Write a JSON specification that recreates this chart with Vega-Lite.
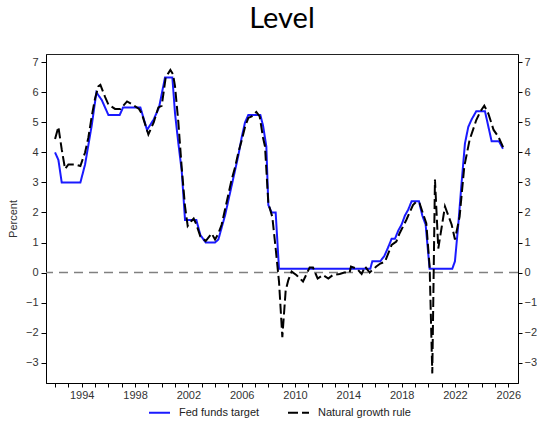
{
  "$schema": "https://vega.github.io/schema/vega-lite/v6.json",
  "width": 472,
  "height": 329,
  "autosize": "none",
  "padding": {"left": 46, "top": 54, "right": 19, "bottom": 45},
  "background": "white",
  "title": {"text": "Level", "font": "Lato", "fontSize": 29, "fontWeight": "normal", "color": "#000", "anchor": "middle", "offset": 20},
  "config": {
    "view": {"stroke": "#222", "strokeWidth": 1},
    "axis": {"grid": false, "labelFont": "Liberation Sans", "labelFontSize": 11, "labelColor": "#333", "domainColor": "#000", "tickColor": "#000", "titleFont": "Liberation Sans", "titleFontWeight": "normal", "titleFontSize": 11, "titleColor": "#333"},
    "legend": {"labelFont": "Liberation Sans", "labelFontSize": 11, "labelColor": "#222"}
  },
  "datasets": {
    "main": [
      {"year": 1992.0, "value": 4.0, "series": "Fed funds target"},
      {"year": 1992.25, "value": 3.75, "series": "Fed funds target"},
      {"year": 1992.5, "value": 3.0, "series": "Fed funds target"},
      {"year": 1993.0, "value": 3.0, "series": "Fed funds target"},
      {"year": 1993.5, "value": 3.0, "series": "Fed funds target"},
      {"year": 1993.9, "value": 3.0, "series": "Fed funds target"},
      {"year": 1994.25, "value": 3.6, "series": "Fed funds target"},
      {"year": 1994.5, "value": 4.25, "series": "Fed funds target"},
      {"year": 1994.75, "value": 4.9, "series": "Fed funds target"},
      {"year": 1995.1, "value": 6.0, "series": "Fed funds target"},
      {"year": 1995.5, "value": 5.75, "series": "Fed funds target"},
      {"year": 1996.0, "value": 5.25, "series": "Fed funds target"},
      {"year": 1996.5, "value": 5.25, "series": "Fed funds target"},
      {"year": 1996.85, "value": 5.25, "series": "Fed funds target"},
      {"year": 1997.1, "value": 5.5, "series": "Fed funds target"},
      {"year": 1997.5, "value": 5.5, "series": "Fed funds target"},
      {"year": 1998.0, "value": 5.5, "series": "Fed funds target"},
      {"year": 1998.4, "value": 5.5, "series": "Fed funds target"},
      {"year": 1998.9, "value": 4.75, "series": "Fed funds target"},
      {"year": 1999.4, "value": 5.1, "series": "Fed funds target"},
      {"year": 1999.8, "value": 5.5, "series": "Fed funds target"},
      {"year": 2000.25, "value": 6.5, "series": "Fed funds target"},
      {"year": 2000.8, "value": 6.5, "series": "Fed funds target"},
      {"year": 2001.0, "value": 5.3, "series": "Fed funds target"},
      {"year": 2001.25, "value": 4.3, "series": "Fed funds target"},
      {"year": 2001.5, "value": 3.4, "series": "Fed funds target"},
      {"year": 2001.75, "value": 1.75, "series": "Fed funds target"},
      {"year": 2002.6, "value": 1.75, "series": "Fed funds target"},
      {"year": 2002.9, "value": 1.25, "series": "Fed funds target"},
      {"year": 2003.3, "value": 1.0, "series": "Fed funds target"},
      {"year": 2004.0, "value": 1.0, "series": "Fed funds target"},
      {"year": 2004.25, "value": 1.1, "series": "Fed funds target"},
      {"year": 2004.5, "value": 1.5, "series": "Fed funds target"},
      {"year": 2004.75, "value": 1.9, "series": "Fed funds target"},
      {"year": 2005.0, "value": 2.4, "series": "Fed funds target"},
      {"year": 2005.25, "value": 2.9, "series": "Fed funds target"},
      {"year": 2005.5, "value": 3.4, "series": "Fed funds target"},
      {"year": 2005.75, "value": 3.9, "series": "Fed funds target"},
      {"year": 2006.0, "value": 4.5, "series": "Fed funds target"},
      {"year": 2006.25, "value": 5.0, "series": "Fed funds target"},
      {"year": 2006.5, "value": 5.25, "series": "Fed funds target"},
      {"year": 2007.4, "value": 5.25, "series": "Fed funds target"},
      {"year": 2007.6, "value": 4.9, "series": "Fed funds target"},
      {"year": 2007.85, "value": 4.2, "series": "Fed funds target"},
      {"year": 2008.0, "value": 2.25, "series": "Fed funds target"},
      {"year": 2008.25, "value": 2.0, "series": "Fed funds target"},
      {"year": 2008.55, "value": 2.0, "series": "Fed funds target"},
      {"year": 2008.8, "value": 0.125, "series": "Fed funds target"},
      {"year": 2012.0, "value": 0.125, "series": "Fed funds target"},
      {"year": 2015.65, "value": 0.125, "series": "Fed funds target"},
      {"year": 2015.8, "value": 0.375, "series": "Fed funds target"},
      {"year": 2016.4, "value": 0.375, "series": "Fed funds target"},
      {"year": 2016.7, "value": 0.55, "series": "Fed funds target"},
      {"year": 2017.0, "value": 0.85, "series": "Fed funds target"},
      {"year": 2017.25, "value": 1.125, "series": "Fed funds target"},
      {"year": 2017.5, "value": 1.125, "series": "Fed funds target"},
      {"year": 2017.75, "value": 1.4, "series": "Fed funds target"},
      {"year": 2018.0, "value": 1.6, "series": "Fed funds target"},
      {"year": 2018.25, "value": 1.9, "series": "Fed funds target"},
      {"year": 2018.5, "value": 2.1, "series": "Fed funds target"},
      {"year": 2018.75, "value": 2.375, "series": "Fed funds target"},
      {"year": 2019.3, "value": 2.375, "series": "Fed funds target"},
      {"year": 2019.55, "value": 1.9, "series": "Fed funds target"},
      {"year": 2019.8, "value": 1.6, "series": "Fed funds target"},
      {"year": 2020.1, "value": 0.125, "series": "Fed funds target"},
      {"year": 2021.8, "value": 0.125, "series": "Fed funds target"},
      {"year": 2022.0, "value": 0.375, "series": "Fed funds target"},
      {"year": 2022.25, "value": 1.6, "series": "Fed funds target"},
      {"year": 2022.5, "value": 3.0, "series": "Fed funds target"},
      {"year": 2022.75, "value": 4.3, "series": "Fed funds target"},
      {"year": 2023.0, "value": 4.85, "series": "Fed funds target"},
      {"year": 2023.25, "value": 5.1, "series": "Fed funds target"},
      {"year": 2023.6, "value": 5.375, "series": "Fed funds target"},
      {"year": 2024.25, "value": 5.375, "series": "Fed funds target"},
      {"year": 2024.75, "value": 4.375, "series": "Fed funds target"},
      {"year": 2025.3, "value": 4.375, "series": "Fed funds target"},
      {"year": 2025.6, "value": 4.125, "series": "Fed funds target"},

      {"year": 1992.0, "value": 4.45, "series": "Natural growth rule"},
      {"year": 1992.25, "value": 4.85, "series": "Natural growth rule"},
      {"year": 1992.5, "value": 4.1, "series": "Natural growth rule"},
      {"year": 1992.75, "value": 3.45, "series": "Natural growth rule"},
      {"year": 1993.0, "value": 3.6, "series": "Natural growth rule"},
      {"year": 1993.5, "value": 3.6, "series": "Natural growth rule"},
      {"year": 1993.9, "value": 3.55, "series": "Natural growth rule"},
      {"year": 1994.25, "value": 4.0, "series": "Natural growth rule"},
      {"year": 1994.5, "value": 4.5, "series": "Natural growth rule"},
      {"year": 1994.75, "value": 5.2, "series": "Natural growth rule"},
      {"year": 1995.0, "value": 5.8, "series": "Natural growth rule"},
      {"year": 1995.25, "value": 6.2, "series": "Natural growth rule"},
      {"year": 1995.4, "value": 6.25, "series": "Natural growth rule"},
      {"year": 1995.75, "value": 5.85, "series": "Natural growth rule"},
      {"year": 1996.0, "value": 5.6, "series": "Natural growth rule"},
      {"year": 1996.5, "value": 5.45, "series": "Natural growth rule"},
      {"year": 1996.9, "value": 5.45, "series": "Natural growth rule"},
      {"year": 1997.4, "value": 5.7, "series": "Natural growth rule"},
      {"year": 1997.8, "value": 5.6, "series": "Natural growth rule"},
      {"year": 1998.3, "value": 5.45, "series": "Natural growth rule"},
      {"year": 1998.5, "value": 5.3, "series": "Natural growth rule"},
      {"year": 1999.0, "value": 4.6, "series": "Natural growth rule"},
      {"year": 1999.4, "value": 5.0, "series": "Natural growth rule"},
      {"year": 1999.75, "value": 5.5, "series": "Natural growth rule"},
      {"year": 2000.0, "value": 5.55, "series": "Natural growth rule"},
      {"year": 2000.3, "value": 6.5, "series": "Natural growth rule"},
      {"year": 2000.65, "value": 6.75, "series": "Natural growth rule"},
      {"year": 2000.85, "value": 6.6, "series": "Natural growth rule"},
      {"year": 2001.0, "value": 6.2, "series": "Natural growth rule"},
      {"year": 2001.25, "value": 5.0, "series": "Natural growth rule"},
      {"year": 2001.5, "value": 3.5, "series": "Natural growth rule"},
      {"year": 2001.75, "value": 2.2, "series": "Natural growth rule"},
      {"year": 2001.95, "value": 1.55, "series": "Natural growth rule"},
      {"year": 2002.2, "value": 1.7, "series": "Natural growth rule"},
      {"year": 2002.4, "value": 1.8, "series": "Natural growth rule"},
      {"year": 2002.6, "value": 1.6, "series": "Natural growth rule"},
      {"year": 2002.9, "value": 1.2, "series": "Natural growth rule"},
      {"year": 2003.3, "value": 1.05, "series": "Natural growth rule"},
      {"year": 2003.75, "value": 1.3, "series": "Natural growth rule"},
      {"year": 2004.0, "value": 1.1, "series": "Natural growth rule"},
      {"year": 2004.25, "value": 1.3, "series": "Natural growth rule"},
      {"year": 2004.5, "value": 1.6, "series": "Natural growth rule"},
      {"year": 2004.75, "value": 2.1, "series": "Natural growth rule"},
      {"year": 2005.0, "value": 2.6, "series": "Natural growth rule"},
      {"year": 2005.25, "value": 3.1, "series": "Natural growth rule"},
      {"year": 2005.5, "value": 3.5, "series": "Natural growth rule"},
      {"year": 2005.75, "value": 4.0, "series": "Natural growth rule"},
      {"year": 2006.0, "value": 4.4, "series": "Natural growth rule"},
      {"year": 2006.25, "value": 4.85, "series": "Natural growth rule"},
      {"year": 2006.5, "value": 5.15, "series": "Natural growth rule"},
      {"year": 2006.75, "value": 5.2, "series": "Natural growth rule"},
      {"year": 2007.1, "value": 5.35, "series": "Natural growth rule"},
      {"year": 2007.35, "value": 5.2, "series": "Natural growth rule"},
      {"year": 2007.6, "value": 4.5, "series": "Natural growth rule"},
      {"year": 2007.75, "value": 4.2, "series": "Natural growth rule"},
      {"year": 2008.0, "value": 2.3, "series": "Natural growth rule"},
      {"year": 2008.3, "value": 1.85, "series": "Natural growth rule"},
      {"year": 2008.55, "value": 0.8, "series": "Natural growth rule"},
      {"year": 2008.8, "value": -0.3, "series": "Natural growth rule"},
      {"year": 2009.05, "value": -2.15, "series": "Natural growth rule"},
      {"year": 2009.3, "value": -0.6, "series": "Natural growth rule"},
      {"year": 2009.5, "value": -0.25, "series": "Natural growth rule"},
      {"year": 2009.75, "value": 0.03, "series": "Natural growth rule"},
      {"year": 2010.1, "value": -0.08, "series": "Natural growth rule"},
      {"year": 2010.6, "value": -0.3, "series": "Natural growth rule"},
      {"year": 2011.1, "value": 0.17, "series": "Natural growth rule"},
      {"year": 2011.35, "value": 0.17, "series": "Natural growth rule"},
      {"year": 2011.7, "value": -0.2, "series": "Natural growth rule"},
      {"year": 2012.1, "value": -0.08, "series": "Natural growth rule"},
      {"year": 2012.5, "value": -0.2, "series": "Natural growth rule"},
      {"year": 2012.85, "value": -0.08, "series": "Natural growth rule"},
      {"year": 2013.35, "value": -0.05, "series": "Natural growth rule"},
      {"year": 2013.7, "value": 0.0, "series": "Natural growth rule"},
      {"year": 2014.1, "value": 0.0, "series": "Natural growth rule"},
      {"year": 2014.2, "value": 0.2, "series": "Natural growth rule"},
      {"year": 2014.5, "value": 0.15, "series": "Natural growth rule"},
      {"year": 2014.7, "value": 0.1, "series": "Natural growth rule"},
      {"year": 2015.0, "value": -0.05, "series": "Natural growth rule"},
      {"year": 2015.25, "value": 0.2, "series": "Natural growth rule"},
      {"year": 2015.6, "value": 0.0, "series": "Natural growth rule"},
      {"year": 2016.1, "value": 0.2, "series": "Natural growth rule"},
      {"year": 2016.4, "value": 0.3, "series": "Natural growth rule"},
      {"year": 2016.75, "value": 0.36, "series": "Natural growth rule"},
      {"year": 2017.0, "value": 0.64, "series": "Natural growth rule"},
      {"year": 2017.25, "value": 0.92, "series": "Natural growth rule"},
      {"year": 2017.6, "value": 1.03, "series": "Natural growth rule"},
      {"year": 2017.85, "value": 1.31, "series": "Natural growth rule"},
      {"year": 2018.35, "value": 1.75, "series": "Natural growth rule"},
      {"year": 2018.85, "value": 2.25, "series": "Natural growth rule"},
      {"year": 2019.1, "value": 2.36, "series": "Natural growth rule"},
      {"year": 2019.35, "value": 2.3, "series": "Natural growth rule"},
      {"year": 2019.6, "value": 1.97, "series": "Natural growth rule"},
      {"year": 2019.85, "value": 1.64, "series": "Natural growth rule"},
      {"year": 2020.1, "value": 0.2, "series": "Natural growth rule"},
      {"year": 2020.3, "value": -3.36, "series": "Natural growth rule"},
      {"year": 2020.5, "value": 3.1, "series": "Natural growth rule"},
      {"year": 2020.75, "value": 0.8, "series": "Natural growth rule"},
      {"year": 2021.0, "value": 1.5, "series": "Natural growth rule"},
      {"year": 2021.25, "value": 2.2, "series": "Natural growth rule"},
      {"year": 2021.5, "value": 1.9, "series": "Natural growth rule"},
      {"year": 2021.75, "value": 1.6, "series": "Natural growth rule"},
      {"year": 2022.0, "value": 1.1, "series": "Natural growth rule"},
      {"year": 2022.35, "value": 1.86, "series": "Natural growth rule"},
      {"year": 2022.7, "value": 3.53, "series": "Natural growth rule"},
      {"year": 2023.1, "value": 4.42, "series": "Natural growth rule"},
      {"year": 2023.6, "value": 5.08, "series": "Natural growth rule"},
      {"year": 2023.9, "value": 5.36, "series": "Natural growth rule"},
      {"year": 2024.2, "value": 5.56, "series": "Natural growth rule"},
      {"year": 2024.5, "value": 5.3, "series": "Natural growth rule"},
      {"year": 2024.9, "value": 4.75, "series": "Natural growth rule"},
      {"year": 2025.25, "value": 4.53, "series": "Natural growth rule"},
      {"year": 2025.65, "value": 4.14, "series": "Natural growth rule"}
    ]
  },
  "layer": [
    {
      "data": {"values": [{"zero": 0}]},
      "mark": {"type": "rule", "color": "#808080", "strokeWidth": 1.5, "strokeDash": [9, 6]},
      "encoding": {
        "y": {"field": "zero", "type": "quantitative",
          "scale": {"domain": [-3.68, 7.28], "nice": false, "zero": false},
          "axis": {"orient": "right", "title": null, "values": [-3, -2, -1, 0, 1, 2, 3, 4, 5, 6, 7], "tickSize": 4, "labelPadding": 2, "domain": true}}
      }
    },
    {
      "data": {"name": "main"},
      "mark": {"type": "line", "strokeWidth": 2},
      "encoding": {
        "x": {"field": "year", "type": "quantitative",
          "scale": {"domain": [1991.32, 2026.73], "nice": false, "zero": false},
          "axis": {"title": null, "values": [1992, 1993, 1994, 1995, 1996, 1997, 1998, 1999, 2000, 2001, 2002, 2003, 2004, 2005, 2006, 2007, 2008, 2009, 2010, 2011, 2012, 2013, 2014, 2015, 2016, 2017, 2018, 2019, 2020, 2021, 2022, 2023, 2024, 2025, 2026],
            "format": "d", "labelExpr": "datum.value % 4 == 2 ? datum.label : ''", "tickSize": 4, "labelPadding": 2, "labelFlush": false, "labelOverlap": false}},
        "y": {"field": "value", "type": "quantitative",
          "scale": {"domain": [-3.68, 7.28], "nice": false, "zero": false},
          "axis": {"orient": "left", "title": "Percent", "values": [-3, -2, -1, 0, 1, 2, 3, 4, 5, 6, 7], "tickSize": 5, "labelPadding": 3, "titlePadding": 7}},
        "color": {"field": "series", "type": "nominal",
          "scale": {"domain": ["Fed funds target", "Natural growth rule"], "range": ["#1a1aff", "#000000"]},
          "legend": {"title": null, "orient": "none", "legendX": 102, "legendY": 347, "direction": "horizontal", "symbolType": "stroke", "symbolSize": 441, "symbolStrokeWidth": 2, "labelOffset": 8, "columnPadding": 24, "padding": 0}},
        "strokeDash": {"field": "series", "type": "nominal",
          "scale": {"domain": ["Fed funds target", "Natural growth rule"], "range": [[1, 0], [10, 4]]},
          "legend": {"title": null, "orient": "none", "legendX": 102, "legendY": 347, "direction": "horizontal", "symbolType": "stroke", "symbolSize": 441, "symbolStrokeWidth": 2, "labelOffset": 8, "columnPadding": 24, "padding": 0}}
      }
    }
  ],
  "resolve": {"axis": {"y": "independent"}}
}
